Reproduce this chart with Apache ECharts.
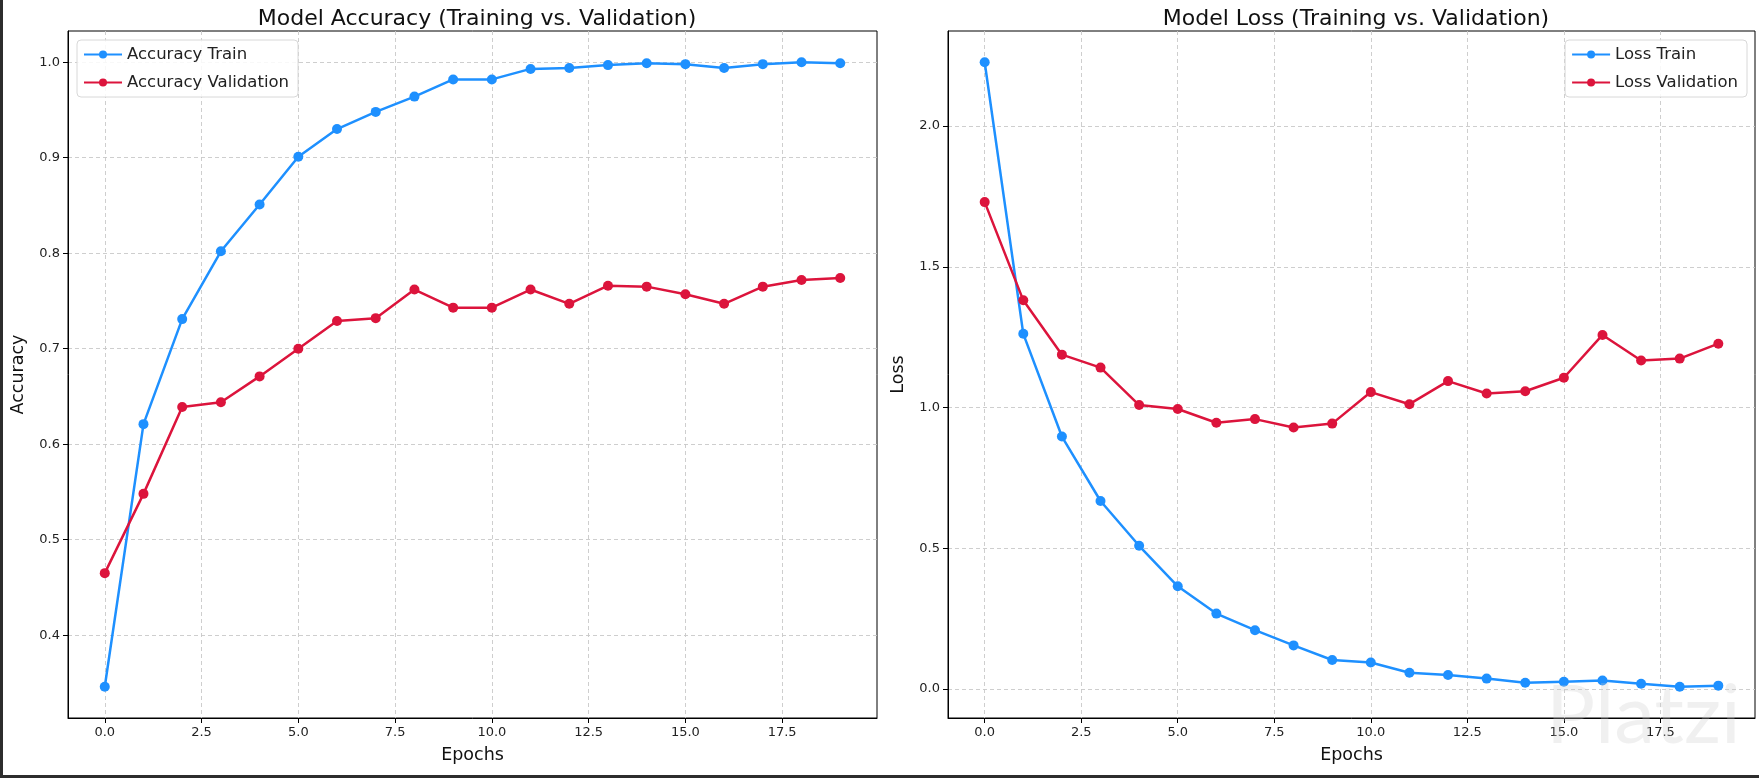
<!DOCTYPE html>
<html>
<head>
<meta charset="utf-8">
<script src="https://cdn.jsdelivr.net/npm/echarts@6/dist/echarts.min.js"></script>
<style>
  html, body { margin: 0; padding: 0; background: #ffffff; }
  #chart { position: absolute; left: 0; top: 0; width: 1759px; height: 778px; background: #ffffff; }
  .edgeL { position: absolute; left: 0; top: 0; width: 3px; height: 778px; background: #2d2d2d; }
  .edgeB { position: absolute; left: 0; top: 775px; width: 1759px; height: 3px; background: #2d2d2d; }
</style>
</head>
<body>
<div id="chart"></div>
<div class="edgeL"></div>
<div class="edgeB"></div>
<script>
// ---- data ----
const epochs = [0, 1, 2, 3, 4, 5, 6, 7, 8, 9, 10, 11, 12, 13, 14, 15, 16, 17, 18, 19];
const accTrain = [0.346, 0.621, 0.731, 0.802, 0.851, 0.901, 0.930, 0.948, 0.964, 0.982, 0.982, 0.993, 0.994, 0.997, 0.999, 0.998, 0.994, 0.998, 1.000, 0.999];
const accVal = [0.465, 0.548, 0.639, 0.644, 0.671, 0.700, 0.729, 0.732, 0.762, 0.743, 0.743, 0.762, 0.747, 0.766, 0.765, 0.757, 0.747, 0.765, 0.772, 0.774];
const lossTrain = [2.227, 1.262, 0.897, 0.668, 0.509, 0.365, 0.268, 0.209, 0.155, 0.103, 0.094, 0.058, 0.050, 0.037, 0.022, 0.026, 0.030, 0.019, 0.008, 0.012];
const lossVal = [1.730, 1.381, 1.188, 1.142, 1.009, 0.995, 0.946, 0.959, 0.929, 0.943, 1.055, 1.012, 1.094, 1.050, 1.058, 1.106, 1.258, 1.167, 1.174, 1.227];
const xTicks = [0, 2.5, 5, 7.5, 10, 12.5, 15, 17.5];
const accTicks = [0.4, 0.5, 0.6, 0.7, 0.8, 0.9, 1.0];
const lossTicks = [0, 0.5, 1.0, 1.5, 2.0];
const titles = ['Model Accuracy (Training vs. Validation)', 'Model Loss (Training vs. Validation)'];
const names = ['Accuracy Train', 'Accuracy Validation', 'Loss Train', 'Loss Validation'];

// ---- helpers ----
const FONT = 'DejaVu Sans';
const BLUE = '#1E90FF';
const RED = '#DC143C';
function pad(arr1, arr2) {
  const all = arr1.concat(arr2);
  const lo = Math.min.apply(null, all), hi = Math.max.apply(null, all);
  const m = (hi - lo) * 0.05;
  return [lo - m, hi + m];
}
const eSpan = epochs[epochs.length - 1] - epochs[0];
const xr = [epochs[0] - eSpan * 0.05, epochs[epochs.length - 1] + eSpan * 0.05];
const accR = pad(accTrain, accVal);
const lossR = pad(lossTrain, lossVal);
const pairs = (ys) => epochs.map((e, i) => [e, ys[i]]);

function xAxis(gi) {
  return {
    gridIndex: gi, type: 'value', min: xr[0], max: xr[1],
    name: 'Epochs', nameLocation: 'middle', nameGap: 28,
    nameTextStyle: { fontFamily: FONT, fontSize: 17.5, color: '#111' },
    axisLine: { show: true, onZero: false, lineStyle: { color: '#000', width: 1 } },
    axisTick: { show: true, length: 5, customValues: xTicks, lineStyle: { color: '#000' } },
    axisLabel: { customValues: xTicks, fontFamily: FONT, fontSize: 13, color: '#222', margin: 8,
      formatter: v => v.toFixed(1) },
    splitLine: { show: true, lineStyle: { color: '#c8c8c8', type: [4, 3], width: 0.9 } }
  };
}
function yAxis(gi, name, r, ticks) {
  return {
    gridIndex: gi, type: 'value', min: r[0], max: r[1],
    name: name, nameLocation: 'middle', nameGap: 41,
    nameTextStyle: { fontFamily: FONT, fontSize: 17.5, color: '#111' },
    axisLine: { show: true, onZero: false, lineStyle: { color: '#000', width: 1 } },
    axisTick: { show: true, length: 5, customValues: ticks, lineStyle: { color: '#000' } },
    axisLabel: { customValues: ticks, fontFamily: FONT, fontSize: 13, color: '#222', margin: 8,
      formatter: v => v.toFixed(1) },
    splitLine: { show: true, lineStyle: { color: '#c8c8c8', type: [4, 3], width: 0.9 } }
  };
}
function series(name, gi, ys, color) {
  return {
    name: name, type: 'line', xAxisIndex: gi, yAxisIndex: gi,
    data: pairs(ys), symbol: 'circle', symbolSize: 10, showSymbol: true,
    lineStyle: { color: color, width: 2.5 }, itemStyle: { color: color },
    emphasis: { disabled: true }, animation: false, z: 3
  };
}
const legendCommon = {
  orient: 'vertical', itemWidth: 38, itemHeight: 10, itemGap: 11,
  padding: [6, 9, 6, 6], backgroundColor: 'rgba(255,255,255,0.85)',
  borderColor: '#d8d8d8', borderWidth: 1, borderRadius: 4,
  textStyle: { fontFamily: FONT, fontSize: 16.5, color: '#222' }
};

const chart = echarts.init(document.getElementById('chart'), null, { renderer: 'canvas' });
chart.setOption({
  animation: false,
  backgroundColor: '#ffffff',
  title: [
    { text: titles[0], left: 472, top: 3, textAlign: 'center',
      textStyle: { fontFamily: FONT, fontSize: 22, fontWeight: 'normal', color: '#111' } },
    { text: titles[1], left: 1351, top: 3, textAlign: 'center',
      textStyle: { fontFamily: FONT, fontSize: 22, fontWeight: 'normal', color: '#111' } }
  ],
  legend: [
    Object.assign({ data: [names[0], names[1]], left: 77, top: 40 }, legendCommon),
    Object.assign({ data: [names[2], names[3]], right: 12, top: 40 }, legendCommon)
  ],
  grid: [
    { left: 68, top: 31, width: 809, height: 687, show: true, borderColor: '#000', borderWidth: 1, backgroundColor: 'transparent' },
    { left: 948, top: 31, width: 807, height: 687, show: true, borderColor: '#000', borderWidth: 1, backgroundColor: 'transparent' }
  ],
  xAxis: [xAxis(0), xAxis(1)],
  yAxis: [yAxis(0, 'Accuracy', accR, accTicks), yAxis(1, 'Loss', lossR, lossTicks)],
  series: [
    series(names[0], 0, accTrain, BLUE),
    series(names[1], 0, accVal, RED),
    series(names[2], 1, lossTrain, BLUE),
    series(names[3], 1, lossVal, RED)
  ],
  graphic: [
    { type: 'text', left: 1546, top: 676, z: 100, silent: true,
      style: { text: 'Platzi', fontFamily: 'Lato', fontSize: 82, fill: 'rgba(200,200,200,0.28)' } }
  ]
});
</script>
</body>
</html>
